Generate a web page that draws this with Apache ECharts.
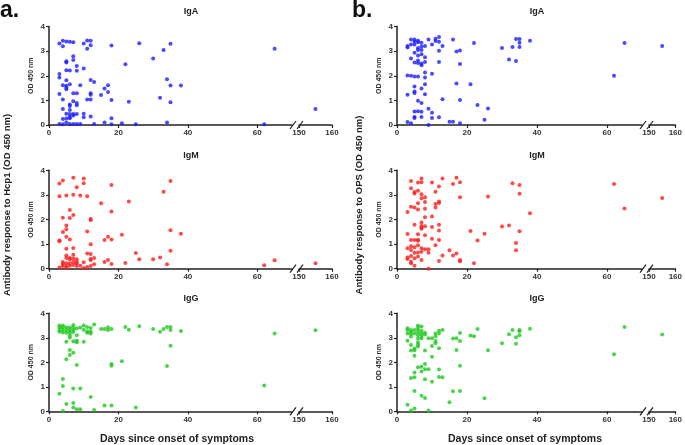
<!DOCTYPE html>
<html>
<head>
<meta charset="utf-8">
<script src="https://cdn.jsdelivr.net/npm/echarts@6/dist/echarts.min.js"></script>
<style>
html,body{margin:0;padding:0;background:#fff;}
#main{width:685px;height:445px;}
</style>
</head>
<body>
<div id="main"></div>
<script>
// 刻度
var xTicksLeft = [0, 20, 40, 60];
var xTicksRight = [150, 160];
var yTicks = [0, 1, 2, 3, 4];
var isotypes = ['IgA', 'IgM', 'IgG'];
var panelNames = ['a.', 'b.'];
var yNames = ['Antibody response to Hcp1 (OD 450 nm)', 'Antibody response to OPS (OD 450 nm)'];

// a. Hcp1  [天数, OD450]
var hcpIgA = [[3,3.31],[3,2.07],[3,1.93],[3,1.26],[3,0.04],
	[4,3.42],[4,3.2],[4,1.61],[4,1.04],[4,0.65],[4,0.24],[4,0.03],
	[5,3.39],[5,2.59],[5,2.54],[5,2.22],[5,1.82],[5,1.59],[5,1.52],[5,1.45],[5,0.46],[5,0.26],[5,0.1],
	[6,3.38],[6,2.21],[6,1.65],[6,0.83],[6,0.77],[6,0.61],[6,0.45],[6,0.34],[6,0.27],[6,0.04],
	[7,3.36],[7,2.79],[7,2.64],[7,1.29],[7,0.96],[7,0.45],[7,0.39],[7,0.04],
	[8,2.4],[8,2.2],[8,1.29],[8,0.89],[8,0.8],[8,0.45],[8,0.04],
	[9,1.61],[9,0.04],[10,3.31],[10,2.29],[10,0.46],[10,0.31],
	[11,3.43],[11,3.1],[11,1.04],
	[12,3.42],[12,3.24],[12,1.83],[12,1.29],[12,1.23],[12,1.04],[12,0.35],
	[13,1.75],[13,0.04],[15,1.22],[16,1.48],[16,0.1],[17,1.61],[17,1.34],
	[18,3.23],[18,1.02],[18,0.27],[18,0.03],
	[21,0.07],[22,2.47],[23,0.94],[25,0.03],[26,3.32],[30,2.7],[32,1.11],[33,3.05],
	[34,1.86],[34,0.1],[35,3.3],[35,1.6],[35,0.92],[38,1.6],
	[62,0.03],[65,3.1],[155,0.65]];
var hcpIgM = [[3,3.46],[3,2.95],[3,1.15],[3,1.12],[3,0.05],
	[4,3.59],[4,2.07],[4,1.49],[4,0.27],[4,0.19],[4,0.11],
	[5,2.98],[5,1.76],[5,1.6],[5,1.3],[5,0.81],[5,0.54],[5,0.43],[5,0.22],[5,0.11],[5,0.04],
	[6,2.39],[6,2.06],[6,1.19],[6,0.43],[6,0.38],[6,0.22],[6,0.12],
	[7,3.7],[7,3.01],[7,2.18],[7,0.84],[7,0.57],[7,0.41],[7,0.27],[7,0.15],
	[8,3.31],[8,0.38],[8,0.27],[8,0.22],[8,0.11],
	[9,2.98],[9,0.12],[10,3.67],[10,3.47],[10,0.26],[10,0.03],
	[11,2.95],[11,1.51],[11,0.62],[11,0.07],
	[12,2.02],[12,1.98],[12,0.99],[12,0.6],[12,0.39],[12,0.35],[12,0.11],
	[13,0.43],[13,0.18],[15,2.66],[16,1.17],[16,0.27],[17,1.3],[17,0.35],
	[18,3.4],[18,2.33],[18,1.19],[18,0.19],
	[21,1.38],[22,0.23],[23,2.73],[25,0.64],[26,0.38],[30,0.38],[32,0.46],[33,3.13],[34,0.18],
	[35,3.57],[35,1.56],[35,0.73],[38,1.42],
	[62,0.14],[65,0.34],[155,0.22]];
var hcpIgG = [[3,3.5],[3,3.42],[3,3.32],[3,3.25],[3,0.72],
	[4,3.5],[4,3.42],[4,3.32],[4,3.22],[4,1.32],[4,1.03],[4,0.01],
	[5,3.43],[5,3.32],[5,3.21],[5,2.84],[5,2.12],[5,0.3],
	[6,3.42],[6,3.32],[6,3.22],[6,3.1],[6,3.01],[6,2.5],[6,2.3],
	[7,3.52],[7,3.42],[7,3.32],[7,3.24],[7,2.86],[7,2.39],[7,0.93],[7,0.34],[7,0.16],
	[8,3.38],[8,3.1],[8,2.88],[8,2.82],[8,1.89],[8,0.08],
	[9,3.42],[9,0.93],[9,0.08],[10,3.5],[10,3.33],[10,2.84],
	[11,3.44],[11,3.27],[11,3.21],[12,3.4],[12,3.25],[12,3.18],[12,0.58],
	[13,3.54],[13,0.05],[15,3.36],[16,3.36],[16,0.24],[17,3.43],[17,3.32],
	[18,3.36],[18,1.93],[18,1.86],[18,0.24],
	[21,2.04],[22,3.44],[23,3.33],[25,0.16],[26,3.47],[30,3.36],[32,3.25],[33,3.36],
	[34,3.44],[34,1.85],[35,3.44],[35,3.32],[35,2.68],[38,3.28],
	[62,1.05],[65,3.18],[155,3.31]];

// b. OPS
var opsIgA = [[3,3.21],[3,3.15],[3,2.01],[3,1.23],[3,0.12],
	[4,3.47],[4,3.27],[4,2.7],[4,2.0],[4,0.07],
	[5,3.47],[5,3.39],[5,3.27],[5,2.93],[5,2.54],[5,1.97],[5,1.56],[5,1.36],[5,1.3],[5,0.55],[5,0.32],[5,0.28],
	[6,3.42],[6,3.36],[6,3.13],[6,3.05],[6,2.82],[6,2.62],[6,2.52],[6,1.97],[6,0.98],[6,0.56],
	[7,3.34],[7,3.19],[7,3.05],[7,2.87],[7,2.5],[7,2.43],[7,1.48],[7,0.89],[7,0.54],[7,0.32],
	[8,3.21],[8,2.75],[8,2.56],[8,2.13],[8,1.93],[8,1.65],[8,1.25],
	[9,3.47],[9,0.66],[9,0.0],[10,3.27],[10,2.08],[10,0.5],[10,0.28],
	[11,3.5],[11,3.41],[12,3.57],[12,3.38],[12,3.02],[12,2.56],[12,0.31],
	[13,3.21],[13,1.05],[15,0.13],[16,3.47],[16,0.13],[17,2.98],[17,1.69],
	[18,3.03],[18,2.48],[18,1.02],[18,0.07],
	[21,1.65],[22,3.33],[23,0.81],[25,0.21],[26,0.67],[30,3.13],[32,2.66],[33,3.17],
	[34,3.49],[34,2.6],[35,3.49],[35,3.34],[35,3.17],[38,3.42],
	[62,2.0],[65,3.33],[155,3.21]];
var opsIgM = [[3,2.3],[3,1.41],[3,0.83],[3,0.46],[3,0.39],
	[4,3.57],[4,3.27],[4,2.52],[4,1.17],[4,0.91],[4,0.76],[4,0.52],[4,0.28],[4,0.22],
	[5,3.12],[5,3.06],[5,2.49],[5,1.79],[5,1.17],[5,0.87],[5,0.65],[5,0.42],[5,0.12],
	[6,3.5],[6,3.17],[6,2.66],[6,2.41],[6,1.4],[6,1.18],[6,1.14],[6,0.95],[6,0.66],[6,0.5],
	[7,3.67],[7,3.51],[7,3.03],[7,2.86],[7,1.88],[7,1.74],[7,1.67],[7,1.62],[7,0.83],[7,0.69],[7,0.35],
	[8,2.9],[8,2.71],[8,2.44],[8,2.09],[8,1.73],[8,1.36],[8,0.79],
	[9,0.79],[9,0.65],[9,0.0],[10,3.5],[10,2.12],[10,1.7],[10,1.22],
	[11,3.13],[11,2.63],[11,2.49],[11,0.95],
	[12,3.34],[12,2.73],[12,2.67],[12,1.79],[12,1.55],[12,1.17],[12,0.31],
	[13,3.67],[13,0.54],[15,0.75],[16,3.44],[16,0.54],[17,3.7],[17,0.62],
	[18,3.51],[18,2.9],[18,0.35],[18,0.3],
	[21,1.53],[22,0.22],[23,1.15],[25,1.42],[26,2.94],[30,1.72],[32,1.76],[33,3.47],
	[34,1.04],[34,0.75],[35,3.4],[35,3.05],[35,1.52],[38,2.25],
	[62,3.44],[65,2.45],[155,2.87]];
var opsIgG = [[3,3.39],[3,3.32],[3,3.18],[3,2.88],[3,0.27],
	[4,3.32],[4,3.24],[4,3.16],[4,3.05],[4,2.71],[4,2.48],[4,1.36],[4,0.03],
	[5,3.32],[5,3.18],[5,2.56],[5,2.49],[5,2.27],[5,1.58],[5,1.39],[5,0.83],[5,0.11],
	[6,3.5],[6,3.42],[6,3.32],[6,3.21],[6,3.1],[6,2.97],[6,2.82],[6,2.73],[6,2.64],[6,1.8],
	[7,3.46],[7,3.29],[7,3.18],[7,3.07],[7,2.98],[7,1.82],[7,1.62],[7,0.63],
	[8,3.21],[8,3.13],[8,2.48],[8,1.93],[8,1.72],[8,1.31],[8,0.54],
	[9,2.98],[9,1.72],[9,0.03],[10,2.98],[10,2.67],[10,2.23],[10,1.21],
	[11,3.18],[11,3.06],[11,2.87],[11,2.78],
	[12,3.29],[12,3.18],[12,2.57],[12,1.71],[12,1.4],
	[13,3.32],[13,1.39],[15,0.37],[16,2.97],[16,0.82],[17,2.98],[17,2.5],
	[18,3.2],[18,2.87],[18,1.86],[18,0.83],
	[21,3.09],[22,3.06],[23,3.36],[25,0.53],[26,2.49],[30,2.78],[32,3.14],[33,3.32],
	[34,3.02],[34,2.76],[35,3.32],[35,3.27],[35,3.1],[38,3.37],
	[62,2.33],[65,3.44],[155,3.13]];

var allData = [[hcpIgA, hcpIgM, hcpIgG], [opsIgA, opsIgM, opsIgG]];
var colors = ['#1c1cff', '#ff1c1c', '#1ec81e'];

// 布局
var panels = [
	{left: 49, w1: 243, left2: 299, w2: 33, mid: 191, letterX: 0, nameX: 7, xNameX: 177},
	{left: 397, w1: 245, left2: 649, w2: 30, mid: 537, letterX: 352, nameX: 359, xNameX: 525}
];
var rows = [{top: 26.5, h: 98.5}, {top: 170.3, h: 98.4}, {top: 313.3, h: 98}];
var fontFam = '"Liberation Sans", Arial, sans-serif';
var axisColor = '#222';

function axisX(gi, min, max, ticks) {
	return {
		type: 'value', gridIndex: gi, min: min, max: max,
		axisLine: {show: true, lineStyle: {color: axisColor, width: 1.5}},
		axisTick: {show: true, length: 3, customValues: ticks, lineStyle: {color: axisColor, width: 1.2}},
		axisLabel: {customValues: ticks, color: '#333', fontSize: 8, fontWeight: 'bold', margin: 4, fontFamily: fontFam},
		splitLine: {show: false}
	};
}
function axisY(gi, show) {
	return {
		type: 'value', gridIndex: gi, min: 0, max: 4, interval: 1, show: show,
		name: 'OD 450 nm', nameLocation: 'middle', nameGap: 14,
		nameTextStyle: {fontSize: 7, fontWeight: 'bold', color: '#333', fontFamily: fontFam},
		axisLine: {show: true, lineStyle: {color: axisColor, width: 1.5}},
		axisTick: {show: true, length: 3, customValues: yTicks, lineStyle: {color: axisColor, width: 1.2}},
		axisLabel: {customValues: yTicks, color: '#333', fontSize: 8, fontWeight: 'bold', margin: 4, fontFamily: fontFam},
		splitLine: {show: false}
	};
}
function scatter(gi, data, color) {
	return {
		type: 'scatter', xAxisIndex: gi, yAxisIndex: gi, data: data,
		symbol: 'circle', symbolSize: 4, itemStyle: {color: color},
		silent: true, animation: false
	};
}

var grids = [], xAxes = [], yAxes = [], series = [], graphics = [];
panels.forEach(function (p, pi) {
	rows.forEach(function (r, ri) {
		var g = grids.length;
		grids.push({left: p.left, top: r.top, width: p.w1, height: r.h});
		grids.push({left: p.left2, top: r.top, width: p.w2, height: r.h});
		xAxes.push(axisX(g, 0, 70, xTicksLeft));
		xAxes.push(axisX(g + 1, 150, 160, xTicksRight));
		yAxes.push(axisY(g, true));
		yAxes.push(axisY(g + 1, false));
		var d = allData[pi][ri];
		series.push(scatter(g, d.filter(function (v) { return v[0] <= 70; }), colors[ri]));
		series.push(scatter(g + 1, d.filter(function (v) { return v[0] >= 150; }), colors[ri]));
		// 标题
		graphics.push({type: 'text', x: p.mid, y: r.top - 15, style: {
			text: isotypes[ri], fill: '#222', font: 'bold 9px ' + fontFam, align: 'center', verticalAlign: 'middle'}});
		// 断轴标记
		var by = r.top + r.h;
		[p.left + p.w1 + 1, p.left2 + 1].forEach(function (bx) {
			graphics.push({type: 'line', shape: {x1: bx - 3, y1: by + 4, x2: bx + 3, y2: by - 4},
				style: {stroke: axisColor, lineWidth: 1.2}});
		});
	});
	graphics.push({type: 'text', x: p.letterX, y: 11, style: {
		text: panelNames[pi], fill: '#111', font: 'bold 23px ' + fontFam, align: 'left', verticalAlign: 'middle'}});
	graphics.push({type: 'text', x: p.nameX, y: 205, rotation: Math.PI / 2, style: {
		text: yNames[pi], fill: '#222', font: 'bold 9.5px ' + fontFam, align: 'center', verticalAlign: 'middle'}});
	graphics.push({type: 'text', x: p.xNameX, y: 439, style: {
		text: 'Days since onset of symptoms', fill: '#222', font: 'bold 10.5px ' + fontFam, align: 'center', verticalAlign: 'middle'}});
});

var chart = echarts.init(document.getElementById('main'));
chart.setOption({
	animation: false,
	grid: grids,
	xAxis: xAxes,
	yAxis: yAxes,
	series: series,
	graphic: graphics
});
</script>
</body>
</html>
